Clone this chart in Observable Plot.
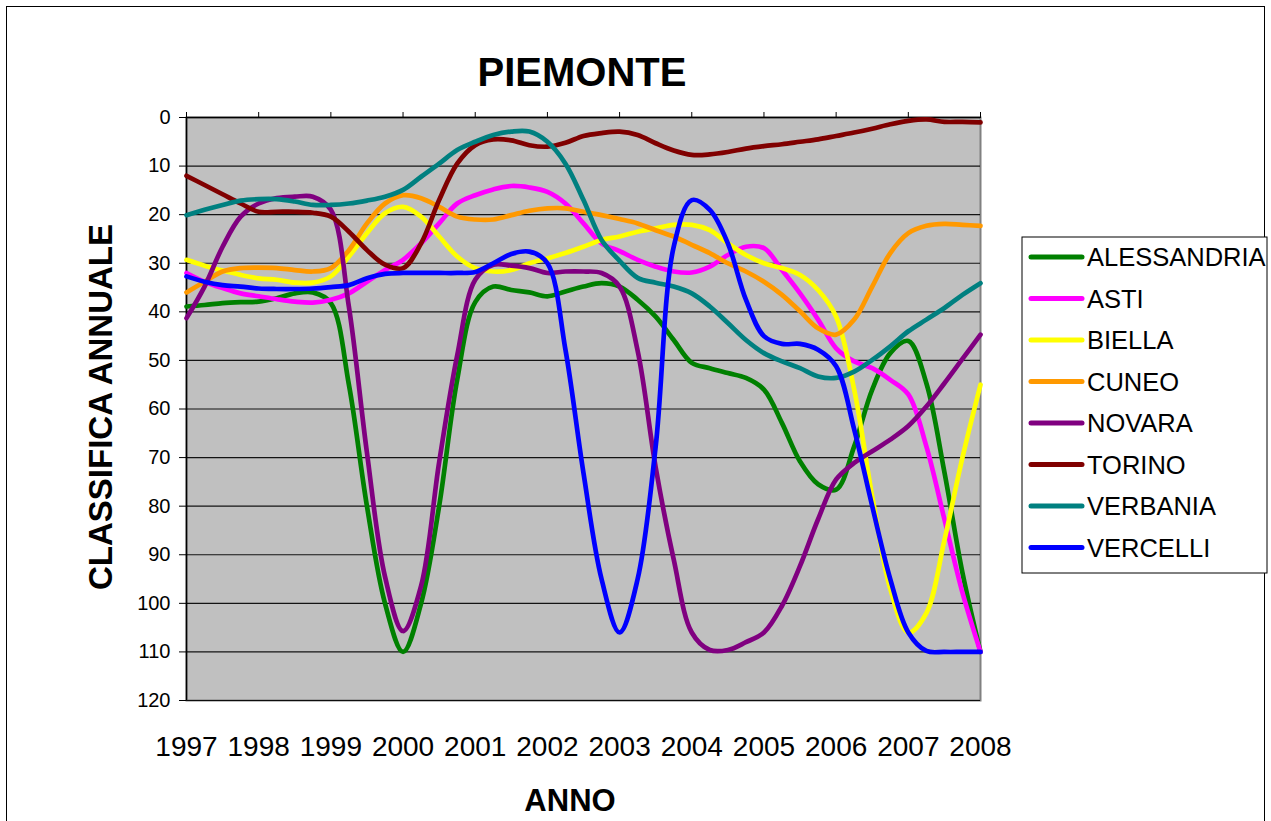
<!DOCTYPE html>
<html>
<head>
<meta charset="utf-8">
<script src="https://cdn.jsdelivr.net/npm/d3@7"></script>
<script src="https://cdn.jsdelivr.net/npm/@observablehq/plot@0.6"></script>
<style>
  html, body { margin: 0; padding: 0; background: #fff; }
  #wrap { position: relative; width: 1271px; height: 821px; overflow: hidden; background: #fff;
          font-family: "Liberation Sans", Arial, sans-serif; }
  #border { position: absolute; left: 6px; top: 6px; width: 1259px; height: 840px; border: 1.5px solid #000; box-sizing: border-box; }
  #chart { position: absolute; left: 0; top: 0; }
  #overlay { position: absolute; left: 0; top: 0; pointer-events: none; }
</style>
</head>
<body>
<div id="wrap">
  <div id="border"></div>
  <div id="chart"></div>
  <svg id="overlay" width="1271" height="821"></svg>
</div>
<script>
// ---- Data (quarterly readings, starting 1997, step 0.25 year) ----
const years = [1997, 1998, 1999, 2000, 2001, 2002, 2003, 2004, 2005, 2006, 2007, 2008];
const yTicks = [0, 10, 20, 30, 40, 50, 60, 70, 80, 90, 100, 110, 120];
const startYear = 1997;
const step = 0.25;

const names = ["ALESSANDRIA", "ASTI", "BIELLA", "CUNEO", "NOVARA", "TORINO", "VERBANIA", "VERCELLI"];
const colors = ["#008000", "#FF00FF", "#FFFF00", "#FF9900", "#800080", "#800000", "#008080", "#0000FF"];

const alessandria = [38.9, 38.6, 38.2, 38, 37.9, 37.2, 36.2, 36, 38.2, 55, 80, 100,
  110, 100, 80, 54, 38, 34.8, 35.5, 36, 36.8, 35.8, 34.8, 34.1, 34.8, 37.5, 41, 45.8,
  50.5, 51.6, 52.6, 53.6, 56, 62.9, 70.8, 75.5, 76.6, 67.7, 56, 48.5, 46, 54.7, 73, 93.7, 110];
const asti = [32, 33.8, 35.1, 36.2, 36.8, 37.4, 37.9, 38.1, 37.5, 36.2, 33.8, 31.4,
  29.3, 25.9, 21.8, 17.7, 16, 14.8, 14.1, 14.4, 15.3, 17.7, 21.8, 25.9, 27.5, 29.3, 30.7, 31.7,
  31.9, 30.7, 28.3, 26.6, 26.9, 31.4, 36.2, 41.6, 47.5, 50.2, 51.6, 54, 57, 67.7, 82.7, 97.8, 110];
const biella = [29.3, 30.5, 31.5, 32.4, 33.1, 33.4, 34, 34, 32.7, 28.6, 23.8, 19.7,
  18.4, 20.4, 24.5, 28.6, 31, 31.7, 31.4, 30, 29, 27.9, 26.6, 25.2, 24.5, 23.5, 22.8, 22.1,
  22.1, 23.2, 25.9, 28.3, 30, 31, 32.4, 35.5, 41, 56, 78, 97, 106, 102, 87, 70, 55];
const cuneo = [36, 33.8, 31.7, 31, 30.9, 31, 31.4, 31.7, 31, 27.3, 21.8, 17.7,
  16, 16.6, 18.4, 20.4, 21, 21, 20.1, 19.2, 18.7, 18.7, 19.4, 20.1, 20.9, 21.8, 23.2, 24.5,
  26.2, 27.9, 30, 31.7, 33.8, 36.5, 39.9, 43.4, 44.7, 41.6, 34.8, 27.9, 23.8, 22.3, 21.9, 22.1, 22.3];
const novara = [41.3, 34.8, 26.6, 20.4, 17.7, 16.6, 16.3, 16.3, 19, 39, 69, 94.5,
  105.7, 96.4, 71, 49, 33.4, 30.3, 30.5, 31, 32, 31.7, 31.7, 32, 34.8, 48, 72, 91,
  106, 109.6, 109.6, 108, 106, 100.5, 92.3, 82.7, 74.5, 71.1, 68.7, 66.3, 63.5, 59.5, 54.7, 49.7, 44.7];
const torino = [12, 13.9, 15.8, 17.7, 19.4, 19.4, 19.4, 19.6, 20.4, 23.5, 27.3, 30.3,
  31, 25.9, 17, 9.5, 5.7, 4.5, 4.7, 5.7, 6, 5.2, 3.8, 3.2, 2.9, 3.6, 5.3, 6.8,
  7.7, 7.6, 7.1, 6.4, 5.9, 5.5, 5, 4.5, 3.8, 3.1, 2.3, 1.4, 0.7, 0.4, 0.9, 0.9, 1];
const verbania = [20.1, 19, 18, 17.1, 16.8, 16.8, 17.3, 18, 18, 17.7, 17.1, 16.3,
  14.9, 12.2, 9.5, 6.7, 5, 3.6, 2.9, 2.9, 5, 9.5, 17, 25.2, 29.5, 33, 34, 34.8,
  36.2, 38.9, 42.3, 45.8, 48.5, 50.2, 51.6, 53.3, 53.6, 52.3, 49.9, 47.1, 44, 41.6, 39.2, 36.5, 34.1];
const vercelli = [32.7, 33.8, 34.5, 34.8, 35.2, 35.3, 35.3, 35.2, 34.9, 34.5, 33.1, 32.2,
  32, 32, 32, 32, 31.8, 30, 28.1, 27.6, 30, 47.8, 73.2, 95, 106, 95, 67.7, 26.6,
  17, 19, 25.9, 37.5, 45, 46.6, 46.6, 47.8, 51.2, 64.2, 80, 95, 106, 109.8, 110, 110, 110];

const seriesValues = [alessandria, asti, biella, cuneo, novara, torino, verbania, vercelli];

const rows = [];
names.forEach((name, k) => {
  seriesValues[k].forEach((v, i) => rows.push({name, t: startYear + i * step, v}));
});

const chart = Plot.plot({
  width: 1271,
  height: 821,
  marginLeft: 186,
  marginRight: 291,
  marginTop: 117,
  marginBottom: 121,
  style: {fontFamily: "'Liberation Sans', Arial, sans-serif", background: "transparent", color: "#000", overflow: "visible"},
  x: {domain: [1997, 2008]},
  y: {domain: [0, 120], reverse: true},
  color: {domain: names, range: colors},
  marks: [
    Plot.frame({fill: "#c0c0c0", stroke: "#808080", strokeWidth: 2}),
    Plot.gridY(yTicks, {stroke: "#000", strokeOpacity: 0.9, strokeWidth: 1.2}),
    Plot.ruleX([1997], {stroke: "#000", strokeWidth: 1.5}),
    Plot.ruleY([0], {stroke: "#000", strokeWidth: 1.5}),
    Plot.axisY(yTicks, {anchor: "left", tickSize: 7, tickPadding: 9, fontSize: 20, label: null, tickFormat: d => String(d)}),
    Plot.axisX(years, {anchor: "top", tickSize: 6, tickPadding: 0, label: null, tickFormat: () => ""}),
    Plot.axisX(years, {anchor: "bottom", tickSize: 0, tickPadding: 36, fontSize: 28, label: null, tickFormat: d => String(d)}),
    Plot.line(rows, {x: "t", y: "v", z: "name", stroke: "name", strokeWidth: 4.7, curve: "catmull-rom", strokeLinejoin: "round"})
  ]
});
document.getElementById("chart").appendChild(chart);

// ---- Titles and legend ----
const ov = d3.select("#overlay");
const ff = "'Liberation Sans', Arial, sans-serif";
ov.append("text").attr("x", 582).attr("y", 86).attr("text-anchor", "middle")
  .attr("font-family", ff).attr("font-weight", "bold").attr("font-size", 40).text("PIEMONTE");
ov.append("text").attr("x", 570).attr("y", 811).attr("text-anchor", "middle")
  .attr("font-family", ff).attr("font-weight", "bold").attr("font-size", 31).text("ANNO");
ov.append("text").attr("transform", "translate(112,407) rotate(-90)").attr("text-anchor", "middle")
  .attr("font-family", ff).attr("font-weight", "bold").attr("font-size", 33).text("CLASSIFICA ANNUALE");

const lg = ov.append("g").attr("transform", "translate(1022,237)");
lg.append("rect").attr("width", 245).attr("height", 336).attr("fill", "#fff").attr("stroke", "#000").attr("stroke-width", 1);
names.forEach((n, i) => {
  const cy = 20 + i * 41.5;
  lg.append("line").attr("x1", 9).attr("x2", 60).attr("y1", cy).attr("y2", cy)
    .attr("stroke", colors[i]).attr("stroke-width", 5).attr("stroke-linecap", "round");
  lg.append("text").attr("x", 65).attr("y", cy + 9).attr("font-family", ff).attr("font-size", 25.5).text(n);
});
</script>
</body>
</html>
